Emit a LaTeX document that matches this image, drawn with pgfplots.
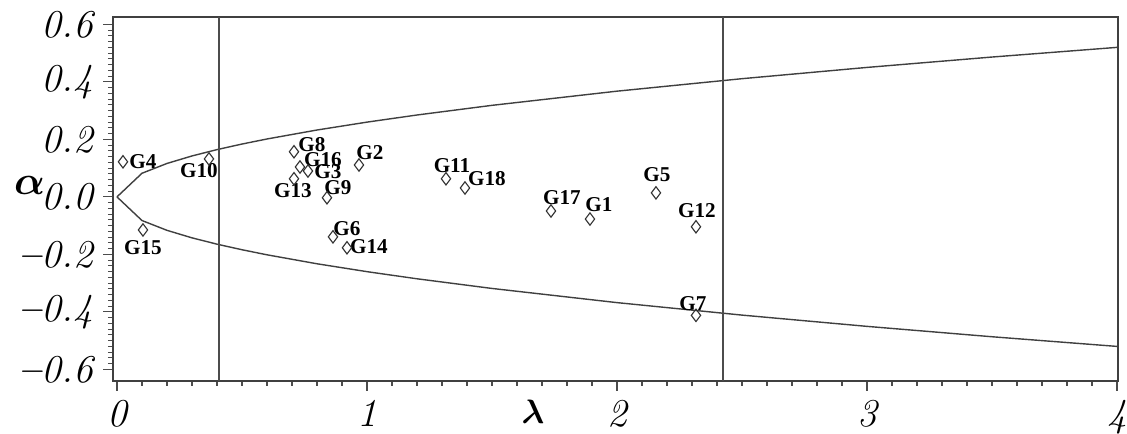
\documentclass[border=0pt]{standalone}
\usepackage{pgfplots}
\pgfplotsset{compat=1.18}
\usepackage{fontspec}
\usepackage{amsmath,bm}
\newfontfamily\timesf{Liberation Serif}
\newcommand{\gl}[1]{{\timesf\bfseries\fontsize{7.5}{8}\selectfont #1}}
\newcommand{\mn}{\textbf{--}}
\begin{document}
\begin{tikzpicture}
\useasboundingbox (-40.1pt,-18.8pt) rectangle (359.9pt,135.2pt);
\begin{axis}[
  scale only axis, width=356.7pt, height=129.2pt,
  xmin=-0.016, xmax=4.004, ymin=-0.64, ymax=0.626,
  axis line style={black!75, line width=0.5pt},
  tick align=outside, tick pos=left,
  major tick length=3.5pt, minor tick length=1.8pt,
  every tick/.style={black!70, line width=0.4pt},
  xtick={0,1,2,3,4}, xticklabels={0,1,2,3,4},
  minor x tick num=9,
  ytick={-0.6,-0.4,-0.2,0,0.2,0.4,0.6},
  yticklabels={\mn0.6,\mn0.4,\mn0.2,0.0,0.2,0.4,0.6},
  minor y tick num=9,
  ticklabel style={font=\fontsize{14}{16}\selectfont\itshape},
  xlabel={$\bm{\lambda}$},
  xlabel style={at={(rel axis cs:0.418,0)}, anchor=center, yshift=-11pt, font=\fontsize{13}{14}\selectfont},
  ylabel={$\bm{\alpha}$},
  ylabel style={at={(rel axis cs:-0.083,0.538)}, anchor=center, rotate=-90, font=\fontsize{14}{15}\selectfont},
  clip=false,
]
% boundary curves
\addplot[black!75, line width=0.5pt] coordinates {
(0,0) (0.1,0.0822) (0.2,0.1163) (0.3,0.1424) (0.4,0.1644) (0.5,0.1838) (0.6,0.2014) (0.8,0.2326) (1.0,0.26) (1.2,0.2848) (1.5,0.3184) (2.0,0.3677) (2.5,0.4111) (3.0,0.4503) (3.5,0.4864) (4.0,0.52)};
\addplot[black!75, line width=0.5pt] coordinates {
(0,0) (0.1,-0.0822) (0.2,-0.1163) (0.3,-0.1424) (0.4,-0.1644) (0.5,-0.1838) (0.6,-0.2014) (0.8,-0.2326) (1.0,-0.26) (1.2,-0.2848) (1.5,-0.3184) (2.0,-0.3677) (2.5,-0.4111) (3.0,-0.4503) (3.5,-0.4864) (4.0,-0.52)};
% vertical lines
\addplot[black!70, line width=0.6pt] coordinates {(0.408,-0.64) (0.408,0.626)};
\addplot[black!70, line width=0.6pt] coordinates {(2.424,-0.64) (2.424,0.626)};
% points
\addplot[only marks, mark=diamond, mark size=2.2pt, mark options={black!80, line width=0.4pt, fill=white}] coordinates {
(0.024,0.122) (0.368,0.132) (0.104,-0.115) (0.708,0.157) (0.732,0.104) (0.764,0.090) (0.968,0.111)
(0.708,0.063) (0.840,-0.003) (0.864,-0.139) (0.920,-0.177) (1.316,0.063) (1.392,0.031) (1.736,-0.049)
(1.892,-0.077) (2.156,0.014) (2.316,-0.104) (2.316,-0.412)};
% labels
\node at (axis cs:0.104,0.122) {\gl{G4}};
\node at (axis cs:0.328,0.090) {\gl{G10}};
\node at (axis cs:0.104,-0.177) {\gl{G15}};
\node at (axis cs:0.780,0.181) {\gl{G8}};
\node at (axis cs:0.824,0.129) {\gl{G16}};
\node at (axis cs:0.844,0.087) {\gl{G3}};
\node at (axis cs:1.012,0.153) {\gl{G2}};
\node at (axis cs:0.704,0.021) {\gl{G13}};
\node at (axis cs:0.884,0.031) {\gl{G9}};
\node at (axis cs:0.920,-0.111) {\gl{G6}};
\node at (axis cs:1.008,-0.174) {\gl{G14}};
\node at (axis cs:1.340,0.108) {\gl{G11}};
\node at (axis cs:1.480,0.063) {\gl{G18}};
\node at (axis cs:1.780,-0.003) {\gl{G17}};
\node at (axis cs:1.928,-0.028) {\gl{G1}};
\node at (axis cs:2.160,0.077) {\gl{G5}};
\node at (axis cs:2.320,-0.049) {\gl{G12}};
\node at (axis cs:2.304,-0.372) {\gl{G7}};
\end{axis}
\end{tikzpicture}
\end{document}
